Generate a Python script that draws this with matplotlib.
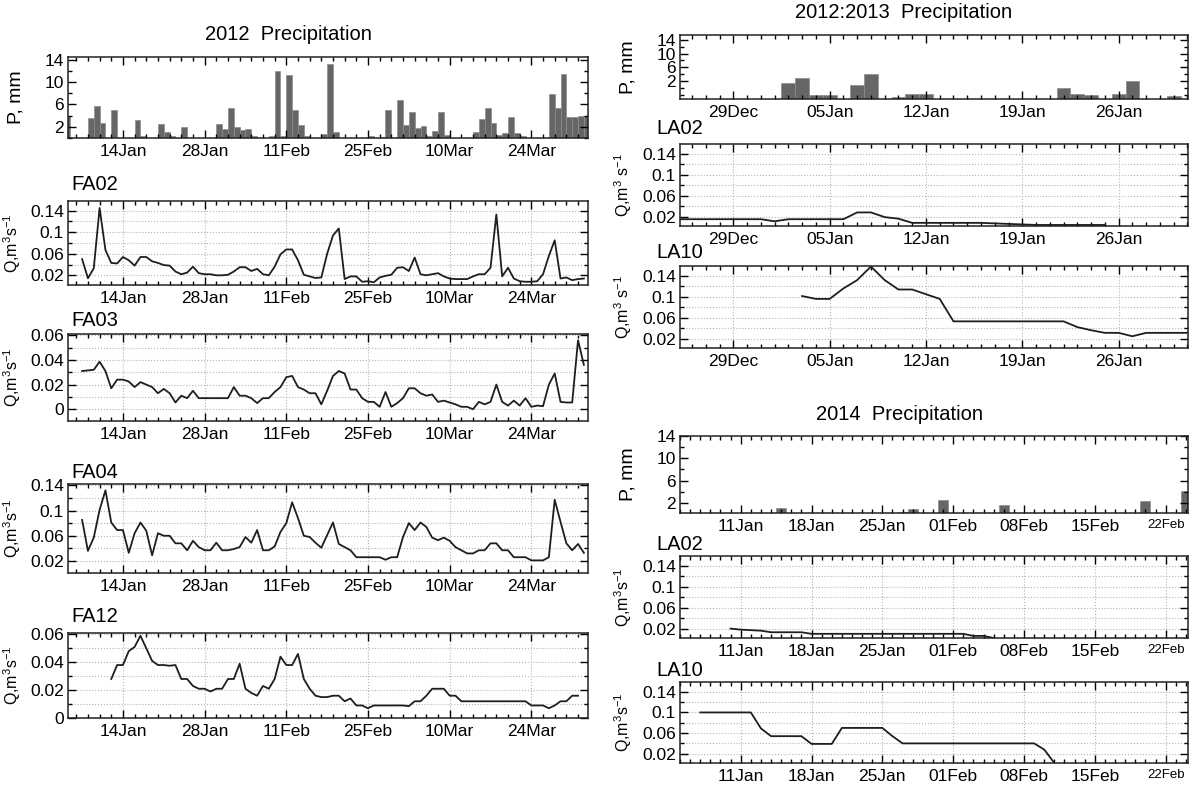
import numpy as np
import pandas as pd
import matplotlib
matplotlib.use("Agg")
import matplotlib.pyplot as plt
import matplotlib.dates as mdates
from matplotlib.ticker import FixedLocator, MultipleLocator, FuncFormatter

plt.rcParams['font.family'] = ['Liberation Sans', 'DejaVu Sans']
plt.rcParams['mathtext.default'] = 'regular'

# ---- 2012 (left column) ----
p2012_dates = ["2012-01-04", "2012-01-08", "2012-01-09", "2012-01-10", "2012-01-12",
               "2012-01-16", "2012-01-17", "2012-01-20", "2012-01-21", "2012-01-22",
               "2012-01-24", "2012-01-30", "2012-01-31", "2012-02-01", "2012-02-02",
               "2012-02-03", "2012-02-04", "2012-02-05", "2012-02-08", "2012-02-09",
               "2012-02-10", "2012-02-11", "2012-02-12", "2012-02-13", "2012-02-14",
               "2012-02-17", "2012-02-18", "2012-02-19", "2012-02-25", "2012-02-27",
               "2012-02-28", "2012-03-01", "2012-03-02", "2012-03-03", "2012-03-04",
               "2012-03-05", "2012-03-06", "2012-03-07", "2012-03-08", "2012-03-09",
               "2012-03-14", "2012-03-15", "2012-03-16", "2012-03-17", "2012-03-18",
               "2012-03-19", "2012-03-20", "2012-03-21", "2012-03-22", "2012-03-27",
               "2012-03-28", "2012-03-29", "2012-03-30", "2012-03-31", "2012-04-01",
               "2012-04-02"]
p2012_mm = [4.0, 3.5, 5.8, 2.7, 5.1,
            3.2, 0.4, 2.5, 1.0, 0.4,
            2.0, 2.5, 1.6, 5.3, 2.0,
            1.5, 1.7, 0.4, 0.4, 12.0,
            0.4, 11.2, 5.0, 2.3, 0.4,
            0.8, 13.2, 1.0, 0.3, 0.2,
            5.0, 6.8, 2.4, 4.6, 1.8,
            2.2, 0.4, 1.2, 4.6, 0.6,
            1.1, 3.4, 5.3, 2.7, 0.6,
            0.9, 3.7, 0.9, 0.3, 7.9,
            5.3, 11.5, 3.7, 3.8, 4.0,
            4.0]

fa_start = "2012-01-07"
fa02 = [0.050, 0.0145, 0.033, 0.145, 0.067, 0.043, 0.042, 0.054, 0.048, 0.038,
        0.054, 0.054, 0.046, 0.043, 0.039, 0.038, 0.027, 0.022, 0.025, 0.036,
        0.024, 0.022, 0.022, 0.020, 0.020, 0.021, 0.027, 0.035, 0.035, 0.028,
        0.032, 0.022, 0.020, 0.036, 0.059, 0.068, 0.068, 0.048, 0.021, 0.018,
        0.015, 0.016, 0.060, 0.094, 0.107, 0.013, 0.018, 0.018, 0.008, 0.009,
        0.007, 0.016, 0.019, 0.021, 0.034, 0.035, 0.028, 0.053, 0.022, 0.020,
        0.022, 0.024, 0.018, 0.014, 0.013, 0.013, 0.013, 0.018, 0.022, 0.022,
        0.034, 0.133, 0.018, 0.034, 0.014, 0.009, 0.008, 0.008, 0.009, 0.022,
        0.056, 0.085, 0.014, 0.016, 0.011, 0.013, 0.014]
fa03 = [0.031, 0.0315, 0.032, 0.0385, 0.031, 0.017, 0.024, 0.024, 0.0225, 0.018,
        0.022, 0.020, 0.018, 0.013, 0.0165, 0.013, 0.0055, 0.011, 0.009, 0.015,
        0.009, 0.009, 0.009, 0.009, 0.009, 0.009, 0.018, 0.011, 0.011, 0.009,
        0.005, 0.009, 0.009, 0.014, 0.018, 0.026, 0.027, 0.018, 0.016, 0.013,
        0.013, 0.004, 0.015, 0.027, 0.031, 0.029, 0.016, 0.016, 0.009, 0.006,
        0.006, 0.002, 0.014, 0.002, 0.005, 0.009, 0.017, 0.017, 0.013, 0.011,
        0.012, 0.006, 0.007, 0.0055, 0.004, 0.002, 0.002, 0.0, 0.006, 0.004,
        0.006, 0.020, 0.006, 0.003, 0.007, 0.003, 0.009, 0.002, 0.003, 0.0025,
        0.020, 0.029, 0.006, 0.0055, 0.0055, 0.056, 0.036]
fa04 = [0.085, 0.036, 0.057, 0.101, 0.132, 0.081, 0.069, 0.069, 0.033, 0.064,
        0.081, 0.068, 0.029, 0.064, 0.060, 0.060, 0.048, 0.048, 0.037, 0.052,
        0.042, 0.037, 0.037, 0.049, 0.037, 0.037, 0.039, 0.042, 0.058, 0.049,
        0.069, 0.037, 0.037, 0.043, 0.066, 0.080, 0.113, 0.088, 0.060, 0.058,
        0.049, 0.041, 0.061, 0.081, 0.047, 0.042, 0.037, 0.026, 0.026, 0.026,
        0.026, 0.026, 0.022, 0.026, 0.026, 0.058, 0.080, 0.069, 0.081, 0.074,
        0.057, 0.053, 0.057, 0.052, 0.042, 0.037, 0.032, 0.032, 0.037, 0.037,
        0.048, 0.048, 0.037, 0.037, 0.026, 0.026, 0.026, 0.021, 0.021, 0.021,
        0.026, 0.117, 0.082, 0.048, 0.037, 0.047, 0.033]
fa12_start = "2012-01-12"
fa12 = [0.028, 0.038, 0.038, 0.048, 0.051, 0.059, 0.050, 0.041, 0.038, 0.038,
        0.0375, 0.038, 0.028, 0.028, 0.023, 0.021, 0.021, 0.019, 0.021, 0.021,
        0.028, 0.028, 0.039, 0.021, 0.018, 0.016, 0.023, 0.021, 0.028, 0.044,
        0.038, 0.038, 0.046, 0.028, 0.021, 0.016, 0.015, 0.015, 0.016, 0.016,
        0.012, 0.014, 0.009, 0.009, 0.007, 0.009, 0.009, 0.009, 0.009, 0.009,
        0.009, 0.0085, 0.012, 0.012, 0.016, 0.021, 0.021, 0.021, 0.016, 0.016,
        0.012, 0.012, 0.012, 0.012, 0.012, 0.012, 0.012, 0.012, 0.012, 0.012,
        0.012, 0.012, 0.009, 0.009, 0.009, 0.007, 0.009, 0.012, 0.012, 0.016,
        0.016]

# ---- 2012:2013 (right, top) ----
p1213_dates = ["2013-01-02", "2013-01-03", "2013-01-04", "2013-01-05", "2013-01-07",
               "2013-01-08", "2013-01-10", "2013-01-11", "2013-01-12", "2013-01-22",
               "2013-01-23", "2013-01-24", "2013-01-26", "2013-01-27", "2013-01-30"]
p1213_mm = [1.4, 3.0, -1.9, -1.9, 1.0,
            4.1, -2.6, -1.8, -1.8, 0.1,
            -1.8, -2.1, -1.8, 2.0, -2.3]

la02a_start = "2012-12-25"
la02a = [0.015, 0.015, 0.015, 0.015, 0.015, 0.015, 0.015, 0.011, 0.015, 0.015,
         0.015, 0.015, 0.015, 0.028, 0.028, 0.019, 0.016, 0.008, 0.008, 0.008,
         0.008, 0.008, 0.008, 0.007, 0.006, 0.005, 0.004, 0.004, 0.004, 0.004,
         0.004, 0.004]
la10a_start = "2013-01-03"
la10a = [0.1015, 0.096, 0.096, 0.116, 0.132, 0.158, 0.132, 0.114, 0.114, 0.105,
         0.096, 0.053, 0.053, 0.053, 0.053, 0.053, 0.053, 0.053, 0.053, 0.053,
         0.042, 0.036, 0.031, 0.031, 0.0245, 0.031, 0.031, 0.031, 0.031, 0.045]

# ---- 2014 (right, bottom) ----
p2014_dates = ["2014-01-15", "2014-01-27", "2014-01-28", "2014-01-30", "2014-01-31",
               "2014-02-01", "2014-02-06", "2014-02-14", "2014-02-20", "2014-02-24"]
p2014_mm = [1.1, 0.4, 0.9, 0.2, 2.6, 0.2, 1.7, 0.2, 2.3, 4.2]

la02b_start = "2014-01-10"
la02b = [0.020, 0.018, 0.017, 0.016, 0.013, 0.013, 0.013, 0.013, 0.010, 0.010,
         0.010, 0.010, 0.010, 0.010, 0.010, 0.010, 0.010, 0.010, 0.010, 0.010,
         0.010, 0.010, 0.010, 0.010, 0.006, 0.006, 0.002]
la10b_start = "2014-01-07"
la10b = [0.100, 0.100, 0.100, 0.100, 0.100, 0.100, 0.069, 0.054, 0.054, 0.054,
         0.054, 0.039, 0.039, 0.039, 0.070, 0.070, 0.070, 0.070, 0.070, 0.054,
         0.040, 0.040, 0.040, 0.040, 0.040, 0.040, 0.040, 0.040, 0.040, 0.040,
         0.040, 0.040, 0.040, 0.040, 0.028, 0.002]

BAR_COLOR = "#666666"
LINE_COLOR = "#1e1e1e"
GRID_COLOR = "#b4b4b4"


def num(d):
    return mdates.date2num(pd.to_datetime(d))


def series(start, values):
    return num(pd.date_range(start, periods=len(values), freq="D")), values


def gfmt(v, pos):
    return "%g" % round(v, 4)


def style(ax, xlim, majors, minors, ylim, yticks, yminor, grid=True, ylabel=None, labx=-0.086):
    ax.set_xlim(num(xlim[0]), num(xlim[1]))
    ax.xaxis.set_major_locator(FixedLocator(num(majors)))
    ax.xaxis.set_minor_locator(FixedLocator(num(minors)))
    ax.xaxis.set_major_formatter(mdates.DateFormatter("%d%b"))
    ax.set_ylim(*ylim)
    ax.yaxis.set_major_locator(FixedLocator(yticks))
    ax.yaxis.set_minor_locator(MultipleLocator(yminor))
    ax.yaxis.set_major_formatter(FuncFormatter(gfmt))
    ax.tick_params(which="both", direction="in", top=True, right=True, width=1.0)
    ax.tick_params(which="major", length=6, labelsize=12.5, pad=4)
    ax.tick_params(which="minor", length=3)
    ax.tick_params(axis="y", labelsize=12.5, pad=3)
    for s in ax.spines.values():
        s.set_linewidth(1.1)
        s.set_color("#222222")
    if grid:
        ax.grid(which="major", axis="x", ls=":", lw=0.8, color=GRID_COLOR)
        ax.grid(which="both", axis="y", ls=":", lw=0.8, color=GRID_COLOR)
    if ylabel:
        ax.set_ylabel(ylabel, fontsize=11.5)
        ax.yaxis.set_label_coords(labx, 0.5)


W, H = 1200, 785
fig = plt.figure(figsize=(12, 7.85), dpi=100)


def add_axes(x0, x1, top, bottom):
    return fig.add_axes([x0 / W, 1 - bottom / H, (x1 - x0) / W, (bottom - top) / H])


def panel_label(name, x0, y):
    fig.text(x0 / W, 1 - y / H, name, ha="left", va="center", fontsize=14.5)


LX0, LX1 = 68, 588
RX0, RX1 = 680, 1188

left_xlim = ("2012-01-04 14:00", "2012-04-02 17:00")
left_major = pd.date_range("2012-01-14", "2012-03-24", freq="14D")
left_minor = pd.date_range("2012-01-04", "2012-04-04", freq="2D")
qlab = "Q,m$^3$s$^{-1}$"

# 2012 precipitation
ax = add_axes(LX0, LX1, 57, 138)
ax.bar(num(p2012_dates), p2012_mm, width=1.0, align="edge", color=BAR_COLOR,
       edgecolor="#8c8c8c", linewidth=0.5)
style(ax, left_xlim, left_major, left_minor, (0, 14.5), [2, 6, 10, 14], 2, grid=False)
ax.set_ylabel("P, mm", fontsize=14)
ax.yaxis.set_label_coords(-0.083, 0.5)
fig.text(288 / W, 1 - 35 / H, "2012  Precipitation", ha="center", va="center", fontsize=14.5)

left_panels = [
    ("FA02", fa_start, fa02, 185, 201, 285, (0.002, 0.158), [0.02, 0.06, 0.1, 0.14], 0.02),
    ("FA03", fa_start, fa03, 320, 334, 421, (-0.0095, 0.061), [0, 0.02, 0.04, 0.06], 0.01),
    ("FA04", fa_start, fa04, 472, 484, 573, (0.001, 0.142), [0.02, 0.06, 0.1, 0.14], 0.02),
    ("FA12", fa12_start, fa12, 617, 633, 718, (0.0, 0.061), [0, 0.02, 0.04, 0.06], 0.01),
]
for name, start, vals, laby, top, bottom, ylim, yt, ym in left_panels:
    ax = add_axes(LX0, LX1, top, bottom)
    x, y = series(start, vals)
    ax.plot(x, y, color=LINE_COLOR, lw=1.3)
    style(ax, left_xlim, left_major, left_minor, ylim, yt, ym, ylabel=qlab)
    panel_label(name, 71, laby)

# 2012:2013
r1_xlim = ("2012-12-25 03:00", "2013-01-31 01:00")
r1_major = pd.date_range("2012-12-29", "2013-01-26", freq="7D")
r1_minor = pd.date_range("2012-12-24", "2013-02-01", freq="D")
qlab2 = "Q,m$^3$ s$^{-1}$"

ax = add_axes(RX0, RX1, 35, 99)
floor = -3.2
ax.bar(num(p1213_dates), np.array(p1213_mm) - floor, bottom=floor, width=1.0,
       color=BAR_COLOR, edgecolor="#8c8c8c", linewidth=0.5)
style(ax, r1_xlim, r1_major, r1_minor, (floor, 15.4), [2, 6, 10, 14], 2, grid=False)
ax.set_ylabel("P, mm", fontsize=14)
ax.yaxis.set_label_coords(-0.085, 0.5)
fig.text(904 / W, 1 - 13 / H, "2012:2013  Precipitation", ha="center", va="center", fontsize=14.5)

for name, start, vals, laby, top, bottom in [("LA02", la02a_start, la02a, 128, 144, 226),
                                             ("LA10", la10a_start, la10a, 252, 266, 348)]:
    ax = add_axes(RX0, RX1, top, bottom)
    x, y = series(start, vals)
    ax.plot(x, y, color=LINE_COLOR, lw=1.3)
    style(ax, r1_xlim, r1_major, r1_minor, (0.002, 0.159), [0.02, 0.06, 0.1, 0.14], 0.02,
          ylabel=qlab2, labx=-0.09)
    panel_label(name, 656, laby)

# 2014
r2_xlim = ("2014-01-05", "2014-02-24 05:00")
r2_major = pd.date_range("2014-01-11", "2014-02-22", freq="7D")
r2_minor = pd.date_range("2014-01-04", "2014-02-25", freq="D")

ax = add_axes(RX0, RX1, 436, 513)
ax.bar(num(p2014_dates), p2014_mm, width=1.0, color=BAR_COLOR,
       edgecolor="#8c8c8c", linewidth=0.5)
style(ax, r2_xlim, r2_major, r2_minor, (0.2, 14.0), [2, 6, 10, 14], 2, grid=False)
ax.set_ylabel("P, mm", fontsize=14)
ax.yaxis.set_label_coords(-0.085, 0.5)
ax.get_xticklabels()[-1].set_fontsize(9.5)
fig.text(900 / W, 1 - 415 / H, "2014  Precipitation", ha="center", va="center", fontsize=14.5)

for name, start, vals, laby, top, bottom in [("LA02", la02b_start, la02b, 545, 556, 638),
                                             ("LA10", la10b_start, la10b, 670, 682, 763)]:
    ax = add_axes(RX0, RX1, top, bottom)
    x, y = series(start, vals)
    ax.plot(x, y, color=LINE_COLOR, lw=1.3)
    style(ax, r2_xlim, r2_major, r2_minor, (0.002, 0.159), [0.02, 0.06, 0.1, 0.14], 0.02,
          ylabel=qlab, labx=-0.09)
    ax.get_xticklabels()[-1].set_fontsize(9.5)
    panel_label(name, 656, laby)

fig.savefig("out.png", dpi=100)
